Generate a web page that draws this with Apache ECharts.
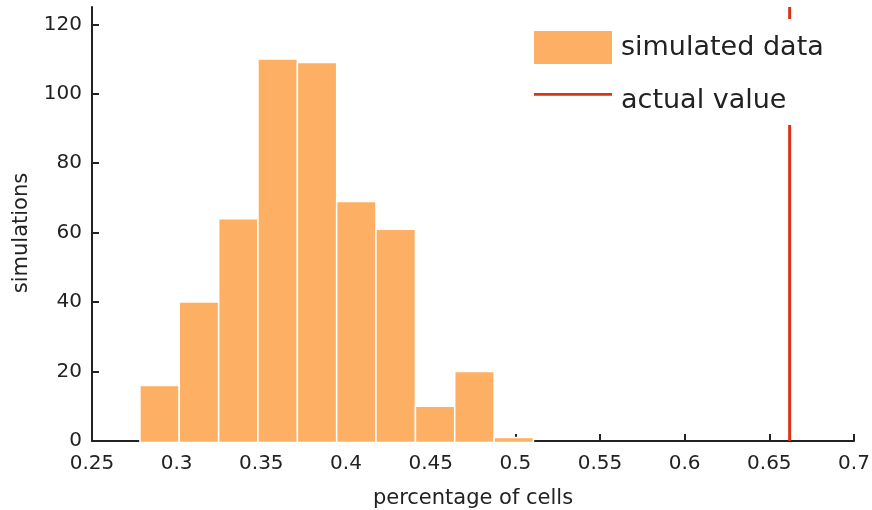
<!DOCTYPE html>
<html>
<head>
<meta charset="utf-8">
<script src="https://cdn.jsdelivr.net/npm/echarts@6/dist/echarts.min.js"></script>
<style>
  html, body { margin: 0; padding: 0; background: #fff; }
  #chart { width: 872px; height: 510px; }
</style>
</head>
<body>
<div id="chart"></div>
<script>
// Histogram bin edges (fraction of cells) and the number of simulations per bin
const binEdges = [0.2783, 0.3015, 0.3248, 0.3480, 0.3713, 0.3945, 0.4177, 0.4410, 0.4642, 0.4875, 0.5107];
const binCounts = [16, 40, 64, 110, 109, 69, 61, 10, 20, 1];

// Observed value, drawn as a vertical reference line
const actualValue = 0.662;

// Axis ranges and tick labels
const xTicks = [0.25, 0.3, 0.35, 0.4, 0.45, 0.5, 0.55, 0.6, 0.65, 0.7];
const yTicks = [0, 20, 40, 60, 80, 100, 120];
const yMax = 125;

const seriesNames = ['simulated data', 'actual value'];

const barColor = '#FDAF63';
const lineColor = '#DA3316';
const inkColor = '#222222';
const fontFamily = '"DejaVu Sans", Verdana, sans-serif';

const histData = binCounts.map((c, i) => [binEdges[i], binEdges[i + 1], c]);

const chart = echarts.init(document.getElementById('chart'), null, { renderer: 'canvas' });

chart.setOption({
  animation: false,
  backgroundColor: '#ffffff',
  textStyle: { fontFamily: fontFamily, color: inkColor },
  grid: { left: 92, right: 18, top: 7, bottom: 69, containLabel: false, outerBoundsMode: 'none' },
  legend: {
    orient: 'vertical',
    left: 522,
    top: 19,
    padding: [12, 12, 11, 12],
    backgroundColor: '#ffffff',
    itemWidth: 78,
    itemHeight: 33,
    itemGap: 23,
    textStyle: { fontFamily: fontFamily, fontSize: 27, color: inkColor, padding: [0, 0, 0, 4] },
    data: [
      { name: seriesNames[0], icon: 'rect' },
      // stroke swatch sitting a little above the label's middle
      { name: seriesNames[1], icon: 'path://M0,0H82V3H0Z M0,16L0,16' }
    ]
  },
  xAxis: {
    type: 'value',
    min: xTicks[0],
    max: xTicks[xTicks.length - 1],
    interval: 0.05,
    name: 'percentage of cells',
    nameLocation: 'middle',
    nameGap: 47,
    nameTextStyle: { fontFamily: fontFamily, fontSize: 21, color: inkColor },
    axisLine: { show: true, onZero: false, lineStyle: { color: inkColor, width: 2 } },
    axisTick: { show: true, inside: true, length: 7, lineStyle: { color: inkColor, width: 2 } },
    axisLabel: {
      fontFamily: fontFamily, fontSize: 20, color: inkColor, margin: 13,
      formatter: v => String(+v.toFixed(2))
    },
    splitLine: { show: false }
  },
  yAxis: {
    type: 'value',
    min: 0,
    max: yMax,
    name: 'simulations',
    nameLocation: 'middle',
    nameGap: 60,
    nameTextStyle: { fontFamily: fontFamily, fontSize: 21, color: inkColor, padding: [0, 0, 0, -18] },
    axisLine: { show: true, onZero: false, lineStyle: { color: inkColor, width: 2 } },
    axisTick: { show: true, inside: true, length: 7, customValues: yTicks, lineStyle: { color: inkColor, width: 2 } },
    axisLabel: { fontFamily: fontFamily, fontSize: 20, color: inkColor, margin: 10, customValues: yTicks },
    splitLine: { show: false }
  },
  series: [
    {
      name: seriesNames[0],
      type: 'custom',
      itemStyle: { color: barColor },
      encode: { x: [0, 1], y: 2 },
      data: histData,
      renderItem: function (params, api) {
        const top = api.coord([api.value(0), api.value(2)]);
        const base = api.coord([api.value(1), 0]);
        return {
          type: 'rect',
          shape: { x: top[0], y: top[1], width: base[0] - top[0], height: base[1] - top[1] + 1.5 },
          style: { fill: barColor, stroke: '#ffffff', lineWidth: 1.5 }
        };
      }
    },
    {
      name: seriesNames[1],
      type: 'line',
      symbol: 'none',
      showSymbol: false,
      lineStyle: { color: lineColor, width: 3 },
      itemStyle: { color: lineColor },
      data: [[actualValue, 0], [actualValue, yMax]]
    }
  ]
});
</script>
</body>
</html>
